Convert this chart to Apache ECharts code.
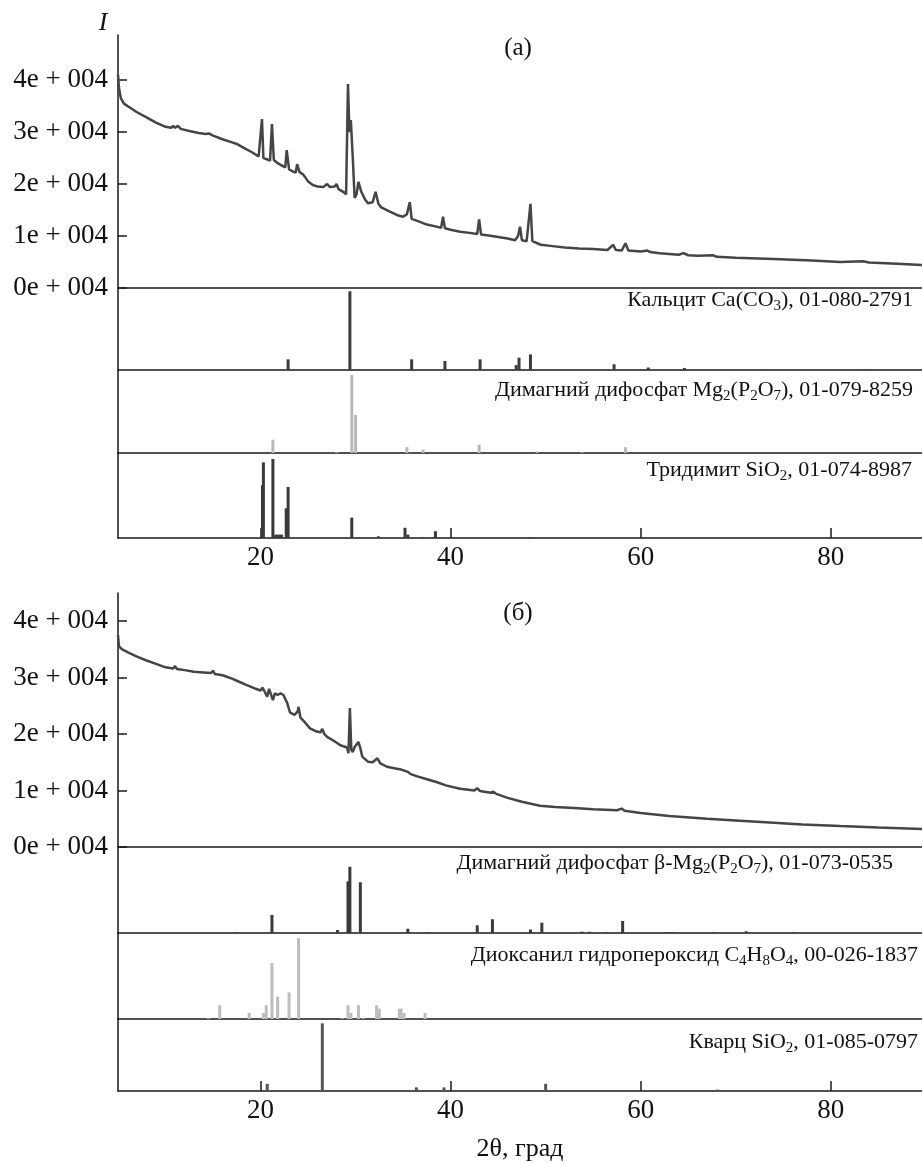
<!DOCTYPE html>
<html><head><meta charset="utf-8">
<script src="https://cdn.jsdelivr.net/npm/echarts@6/dist/echarts.min.js"></script>
<style>html,body{margin:0;padding:0;background:#fff}#c{width:922px;height:1163px}</style>
</head><body><div id="c"></div>
<script>
// ---- DATA ----
const xTickValues = [20, 40, 60, 80];
const yTickValues = [0, 10000, 20000, 30000, 40000];
const yTickLabels = ['0e + 004', '1e + 004', '2e + 004', '3e + 004', '4e + 004'];

// Panel (a) diffractogram [2θ, I]
const curveA = [
 [5.0,41000],[5.1,38500],[5.3,36500],[5.6,35500],[6.0,35000],[7.0,33800],[8.0,32800],[9.0,31800],[10.0,31000],
 [10.6,30800],[10.8,31200],[11.0,30800],[11.3,31200],[11.6,30600],[12.5,30200],[13.5,29800],[14.2,29600],[14.6,29700],
 [15.0,29300],[16.0,28600],[17.0,28000],[17.5,27700],[18.0,27200],[19.0,26200],[19.8,25300],[20.0,25000],[20.15,32500],
 [20.3,25000],[20.6,24800],[21.0,24500],[21.2,31500],[21.4,24600],[21.8,24000],[22.3,23500],[22.6,23200],[22.75,26500],
 [22.9,26300],[23.0,22800],[23.4,22400],[23.7,22200],[23.85,23800],[24.1,22300],[24.5,21800],[25.0,20500],[25.5,19800],
 [26.0,19500],[26.6,19400],[27.0,20000],[27.3,19400],[27.8,19500],[28.0,20000],[28.2,19000],[28.7,18500],[29.0,18000],
 [29.2,39200],[29.35,30000],[29.5,32300],[29.7,25200],[29.9,17300],[30.1,18000],[30.3,20400],[30.6,18500],[31.0,17000],
 [31.3,16300],[31.8,16500],[32.1,18500],[32.4,16200],[32.7,15500],[33.5,14800],[34.4,14000],[35.0,13700],[35.4,14200],
 [35.7,16500],[35.9,13300],[36.5,12900],[37.5,12200],[38.5,11800],[39.0,11600],[39.2,13700],[39.4,11500],[40.0,11200],
 [41.0,10800],[42.0,10600],[42.8,10400],[43.0,13200],[43.2,10300],[44.0,10100],[45.0,9800],[46.0,9500],[46.8,9200],
 [47.1,10000],[47.3,11800],[47.5,9200],[48.0,9000],[48.2,8900],[48.4,16200],[48.6,9000],[49.0,8700],[49.5,8300],
 [50.5,8100],[52.0,7800],[53.5,7600],[55.0,7500],[56.5,7300],[57.1,8300],[57.4,7300],[58.0,7200],[58.4,8600],[58.7,7200],
 [60.0,7000],[60.7,7200],[61.0,6900],[62.0,6700],[64.0,6400],[64.5,6700],[65.0,6300],[66.0,6200],[67.6,6300],[68.0,6000],
 [70.0,5800],[74.0,5600],[78.0,5300],[81.0,5000],[83.4,5150],[84.0,4900],[87.0,4650],[89.6,4400]
];
// Panel (б) diffractogram [2θ, I]
const curveB = [
 [5.0,37500],[5.1,35500],[5.4,35000],[6.0,34500],[7.0,33700],[8.0,33000],[9.0,32400],[10.0,31800],[10.8,31600],[11.0,32000],
 [11.2,31500],[12.0,31300],[13.0,31000],[14.0,30900],[14.8,30800],[15.0,31200],[15.2,30600],[16.0,30400],[17.0,29800],
 [17.8,29200],[18.5,28700],[19.5,28000],[20.0,27700],[20.2,28200],[20.4,27600],[20.7,26600],[20.9,28000],[21.1,28000],
 [21.3,26000],[21.5,27200],[21.8,26900],[22.1,27200],[22.4,26900],[22.8,25500],[23.1,23800],[23.6,23400],[23.9,24000],
 [24.0,24800],[24.2,22900],[24.7,22000],[25.2,21000],[25.8,20500],[26.3,20300],[26.5,20900],[26.7,20000],[27.0,19500],
 [27.7,18800],[28.4,18000],[29.1,17600],[29.25,16600],[29.4,24600],[29.55,17200],[29.7,16800],[29.9,17700],[30.3,18600],
 [30.5,17500],[30.7,16000],[31.3,15100],[31.8,15000],[32.3,15700],[32.6,14800],[33.3,14200],[34.2,13900],[34.8,13700],
 [35.5,13300],[35.8,12900],[36.5,12500],[37.5,12000],[38.5,11500],[39.5,10900],[41.0,10300],[42.5,10000],[42.8,10400],
 [43.1,9900],[44.2,9600],[44.5,9800],[44.8,9400],[46.0,8700],[47.5,8000],[49.4,7300],[51.0,7100],[53.0,6900],[55.0,6700],
 [57.5,6500],[58.0,6800],[58.3,6400],[60.0,6000],[63.0,5500],[67.0,5000],[70.0,4700],[74.0,4300],[77.0,4000],[81.0,3700],
 [85.0,3450],[89.6,3200]
];
// Reference stick patterns [2θ, relative intensity %]
const calcite = [[22.9,13],[29.4,96],[35.9,13],[39.4,11],[43.1,13],[46.9,6],[47.2,15],[48.4,19],[57.2,7],[60.8,3],[64.6,2.5],[72.8,0.8],[83.5,0.8]];
const mgDiphosA = [[21.3,16],[28.0,1],[29.6,94],[30.0,46],[35.4,7],[37.1,4],[43.0,10],[49.1,2],[53.8,0.8],[58.4,7]];
const tridymite = [[20.2,62],[20.3,89],[21.3,93],[21.6,4],[21.9,4],[22.2,4],[22.7,35],[22.9,60],[29.6,24],[32.4,2],[35.2,12],[35.5,4],[37.1,1],[38.4,8],[48.4,1]];
const mgDiphosB = [[17.5,1],[21.2,21],[28.1,3.5],[29.2,60],[29.4,77],[30.5,59],[35.5,5],[37.6,1],[42.8,9],[44.4,16],[48.4,4],[49.6,12],[53.8,1.5],[54.6,1.5],[56.4,1],[58.1,14],[62.8,1],[63.3,1],[67.6,1],[71.1,2],[76.1,1]];
const dioxanyl = [[14.5,1],[15.7,16],[18.8,7],[20.3,7],[20.6,16],[21.2,65],[21.8,26],[23.0,31],[24.0,94],[28.6,1],[29.2,16],[29.5,7],[30.3,16],[30.8,1],[32.2,16],[32.5,12],[34.6,12],[34.8,12],[35.1,7],[37.3,7]];
const quartz = [[20.7,10],[26.5,94],[36.4,5],[39.3,5],[50.0,10],[68.1,2]];

const panelLabels = [
 'Кальцит Ca(CO{s|3}), 01-080-2791',
 'Димагний дифосфат Mg{s|2}(P{s|2}O{s|7}), 01-079-8259',
 'Тридимит SiO{s|2}, 01-074-8987',
 'Димагний дифосфат β-Mg{s|2}(P{s|2}O{s|7}), 01-073-0535',
 'Диоксанил гидропероксид C{s|4}H{s|8}O{s|4}, 00-026-1837',
 'Кварц SiO{s|2}, 01-085-0797'
];
const panelTitles = ['(а)', '(б)'];
const yName = 'I';
const xName = '2θ, град';

// ---- LAYOUT ----
const FONT = 'Liberation Serif';
const AX = '#1a1a1a';
const L = 118, XMIN = 5, XMAX = 89.6;
const grids = [
 {top: 35, height: 253}, {top: 288, height: 82}, {top: 370, height: 83}, {top: 453, height: 85},
 {top: 593, height: 254}, {top: 847, height: 86}, {top: 933, height: 86}, {top: 1019, height: 86}
];
const mainMax = [48650, 44950];
const sticks = [null, calcite, mgDiphosA, tridymite, null, mgDiphosB, dioxanyl, quartz];
const stickColors = [null, '#3c3c3c', '#b9b9b9', '#3a3a3a', null, '#3a3a3a', '#bdbdbd', '#555555'];
const labelPos = [null, [913, 300], [913, 390], [912, 470], null, [893, 863], [918, 955], [918, 1042]];

const xAxes = [], yAxes = [], series = [];
grids.forEach((g, i) => {
  const isMain = (i === 0 || i === 4);
  const isBottom = (i === 3 || i === 7);
  xAxes.push({
    gridIndex: i, type: 'value', min: XMIN, max: XMAX,
    axisLine: {show: true, lineStyle: {color: AX, width: 1.5}},
    axisTick: {show: isBottom, inside: true, length: 10, customValues: xTickValues, lineStyle: {color: AX, width: 1.5}},
    axisLabel: {show: isBottom, customValues: xTickValues, margin: 6, fontFamily: FONT, fontSize: 27, color: '#111'},
    splitLine: {show: false},
    name: i === 7 ? xName : '', nameLocation: 'middle', nameGap: 45,
    nameTextStyle: {fontFamily: FONT, fontSize: 26, color: '#111'}
  });
  if (isMain) {
    yAxes.push({
      gridIndex: i, type: 'value', min: 0, max: mainMax[i === 0 ? 0 : 1],
      axisLine: {show: true, lineStyle: {color: AX, width: 1.5}},
      axisTick: {show: true, inside: true, length: 9, customValues: yTickValues, lineStyle: {color: AX, width: 1.5}},
      axisLabel: {show: true, customValues: yTickValues, margin: 10, fontFamily: FONT, fontSize: 27, color: '#111',
        formatter: v => yTickLabels[yTickValues.indexOf(v)]},
      splitLine: {show: false}
    });
    series.push({
      type: 'line', xAxisIndex: i, yAxisIndex: i, data: i === 0 ? curveA : curveB,
      showSymbol: false, symbol: 'none', lineStyle: {color: '#454545', width: 2.5}, animation: false, z: 3
    });
  } else {
    yAxes.push({
      gridIndex: i, type: 'value', min: 0, max: 100,
      axisLine: {show: true, lineStyle: {color: AX, width: 1.5}},
      axisTick: {show: false}, axisLabel: {show: false}, splitLine: {show: false}
    });
    series.push({
      type: 'bar', xAxisIndex: i, yAxisIndex: i, data: sticks[i], barWidth: 3,
      itemStyle: {color: stickColors[i]}, animation: false, z: 2
    });
  }
});

const graphics = [];
graphics.push({type: 'text', x: 103, y: 23, style: {text: yName, font: 'italic 26px "Liberation Serif"', fill: '#111',
  align: 'center', verticalAlign: 'middle', textAlign: 'center', textVerticalAlign: 'middle'}});
graphics.push({type: 'text', x: 518, y: 48, style: {text: panelTitles[0], font: '25px "Liberation Serif"', fill: '#111',
  align: 'center', verticalAlign: 'middle', textAlign: 'center', textVerticalAlign: 'middle'}});
graphics.push({type: 'text', x: 518, y: 613, style: {text: panelTitles[1], font: '25px "Liberation Serif"', fill: '#111',
  align: 'center', verticalAlign: 'middle', textAlign: 'center', textVerticalAlign: 'middle'}});
let li = 0;
labelPos.forEach((p, i) => {
  if (p === null) return;
  graphics.push({type: 'text', x: p[0], y: p[1], style: {
    text: panelLabels[li++], fontFamily: FONT, fontSize: 22, fill: '#111',
    align: 'right', verticalAlign: 'middle', textAlign: 'right', textVerticalAlign: 'middle',
    rich: {s: {fontFamily: FONT, fontSize: 15, fill: '#111', padding: [13, 0, 0, 0]}}
  }});
});

const chart = echarts.init(document.getElementById('c'), null, {renderer: 'canvas'});
chart.setOption({
  backgroundColor: '#fff',
  animation: false,
  grid: grids.map(g => ({left: L, right: 0, top: g.top, height: g.height, containLabel: false})),
  xAxis: xAxes, yAxis: yAxes, series: series, graphic: graphics
});
</script></body></html>
